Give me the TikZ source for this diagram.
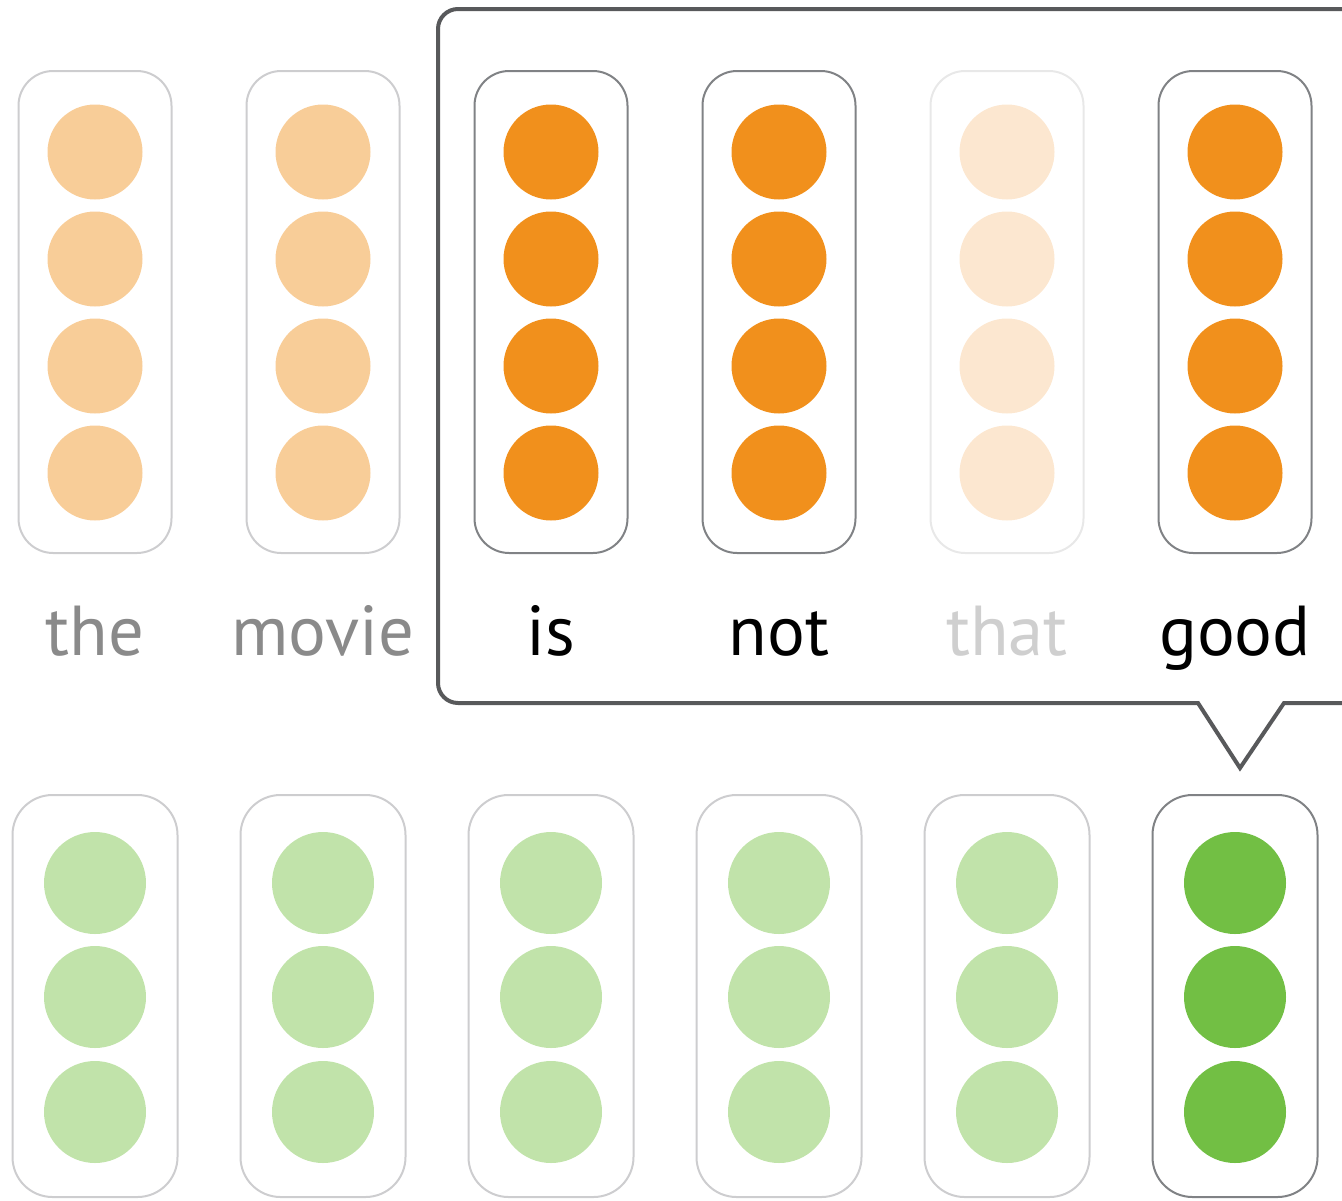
\documentclass[tikz,border=0pt]{standalone}
\usepackage{fontspec}
\setmainfont{PT Sans}
\usepackage{xcolor}
\definecolor{cOrange}{HTML}{F1901C}
\definecolor{cOrangeLight}{HTML}{F8CD98}
\definecolor{cOrangeFaint}{HTML}{FCE7D0}
\definecolor{cGreen}{HTML}{72BF44}
\definecolor{cGreenLight}{HTML}{C1E3AA}
\definecolor{cBoxLight}{HTML}{CDCDCF}
\definecolor{cBoxFaint}{HTML}{E8E8E8}
\definecolor{cBoxDark}{HTML}{808285}
\definecolor{cCallout}{HTML}{58595B}
\definecolor{cWordGray}{HTML}{8A8A8A}
\definecolor{cWordFaint}{HTML}{CFCFCF}
\usetikzlibrary{positioning,calc}
\tikzset{
  emb-box/.style={draw=cBoxLight,line width=1.5pt,rounded corners=26pt,
    minimum width=114.75pt,minimum height=361.5pt,inner sep=0pt},
  emb-unit/.style={circle,minimum size=71.25pt,inner sep=0pt},
  hid-box/.style={draw=cBoxLight,line width=1.5pt,rounded corners=30pt,
    minimum width=123.75pt,minimum height=301.5pt,inner sep=0pt},
  hid-unit/.style={circle,minimum size=76.5pt,inner sep=0pt},
  word/.style={anchor=base,inner sep=0pt,font=\fontsize{53}{64}\selectfont},
  callout/.style={draw=cCallout,line width=3pt,miter limit=10},
}

\begin{document}
\begin{tikzpicture}[x=0.75pt,y=-0.75pt]
  \clip (0,0) rectangle (1342,1200);
  % input words
  \foreach \w/\x/\bc/\fc/\tc in {the/95/cBoxLight/cOrangeLight/cWordGray,
      movie/323/cBoxLight/cOrangeLight/cWordGray,
      is/551/cBoxDark/cOrange/black,
      not/779/cBoxDark/cOrange/black,
      that/1007/cBoxFaint/cOrangeFaint/cWordFaint,
      good/1235/cBoxDark/cOrange/black} {
    \node[emb-box,draw=\bc] (emb-\w) at (\x,312) {};
    \foreach \i/\y in {1/152,2/259,3/366,4/473}
      \node[emb-unit,fill=\fc] (emb-\w-\i) at (\x,\y) {};
    \node[word,text=\tc] (word-\w) at (\x,655) {\w};
  }
  % attention window
  \draw[callout] (1360,703) -- (1284,703) -- (1240,768) -- (1198,703)
    [rounded corners=15pt] -- (438,703) -- (438,9) -- (1360,9);
  % hidden states
  \foreach \w/\x/\bc/\fc in {the/95/cBoxLight/cGreenLight,
      movie/323/cBoxLight/cGreenLight,
      is/551/cBoxLight/cGreenLight,
      not/779/cBoxLight/cGreenLight,
      that/1007/cBoxLight/cGreenLight,
      good/1235/cBoxDark/cGreen} {
    \node[hid-box,draw=\bc] (hid-\w) at (\x,996) {};
    \foreach \i/\y in {1/883,2/997,3/1112}
      \node[hid-unit,fill=\fc] (hid-\w-\i) at (\x,\y) {};
  }
\end{tikzpicture}
\end{document}
